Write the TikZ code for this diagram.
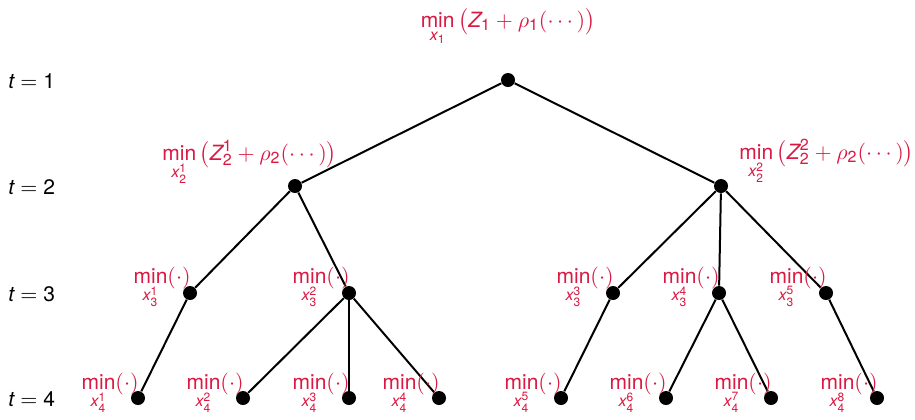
\documentclass[tikz,border=0pt]{standalone}
\usepackage{amsmath}
\usepackage{fontspec}
\setmainfont{TeX Gyre Heros}
\usetikzlibrary{calc}
\DeclareMathSizes{10.5}{10.5}{8}{6}
\definecolor{labred}{RGB}{218,24,66}
\newcommand{\tn}[1]{\text{#1}}
\newcommand{\ti}[1]{\text{\itshape #1}}
\begin{document}
\begin{tikzpicture}[x=0.5pt,y=-0.5pt,
  dotnode/.style={circle,fill=black,inner sep=0pt,minimum size=7pt},
  edge/.style={line width=1pt,black},
  lab/.style={text=labred,inner sep=0pt,font=\fontsize{10.5}{12.5}\selectfont},
  tlab/.style={text=black,inner sep=0pt,anchor=base west,font=\fontsize{10.5}{12.5}\selectfont}]
\useasboundingbox (0,0) rectangle (915,419);
% time labels
\node[tlab] (t1) at (8,88) {$\ti{t}=\tn{1}$};
\node[tlab] (t2) at (8,194) {$\ti{t}=\tn{2}$};
\node[tlab] (t3) at (8,301) {$\ti{t}=\tn{3}$};
\node[tlab] (t4) at (8,406) {$\ti{t}=\tn{4}$};
% nodes
\node[dotnode] (r) at (508,80) {};
\node[dotnode] (a) at (295,186) {};
\node[dotnode] (b) at (721,186) {};
\node[dotnode] (a1) at (190,293) {};
\node[dotnode] (a2) at (349,293) {};
\node[dotnode] (b1) at (613,293) {};
\node[dotnode] (b2) at (719,293) {};
\node[dotnode] (b3) at (826,293) {};
\node[dotnode] (l1) at (138,398) {};
\node[dotnode] (l2) at (243,398) {};
\node[dotnode] (l3) at (349,398) {};
\node[dotnode] (l4) at (439,398) {};
\node[dotnode] (l5) at (561,398) {};
\node[dotnode] (l6) at (666,398) {};
\node[dotnode] (l7) at (771,398) {};
\node[dotnode] (l8) at (877,398) {};
% edges
\draw[edge] (r) -- (a);
\draw[edge] (r) -- (b);
\draw[edge] (a) -- (a1);
\draw[edge] (a) -- (a2);
\draw[edge] (b) -- (b1);
\draw[edge] (b) -- (b2);
\draw[edge] (b) -- (b3);
\draw[edge] (a1) -- (l1);
\draw[edge] (a2) -- (l2);
\draw[edge] (a2) -- (l3);
\draw[edge] (a2) -- (l4);
\draw[edge] (b1) -- (l5);
\draw[edge] (b2) -- (l6);
\draw[edge] (b2) -- (l7);
\draw[edge] (b3) -- (l8);
% labels
\node[lab,anchor=base] (labr) at (508,27) {$\min\limits_{\ti{x}_{\tn{1}}}\,\bigl(\ti{Z}_{\tn{1}}+\rho_{\tn{1}}(\cdots)\bigr)$};
\node[lab,anchor=base west] (laba) at (162,160) {$\min\limits_{\ti{x}_{\tn{2}}^{\tn{1}}}\,\bigl(\ti{Z}_{\tn{2}}^{\tn{1}}+\rho_{\tn{2}}(\cdots)\bigr)$};
\node[lab,anchor=base west] (labb) at (739,159) {$\min\limits_{\ti{x}_{\tn{2}}^{\tn{2}}}\,\bigl(\ti{Z}_{\tn{2}}^{\tn{2}}+\rho_{\tn{2}}(\cdots)\bigr)$};
\node[lab,anchor=base east] (laba1) at ($(a1)+(1,-10)$) {$\min\limits_{\ti{x}_{\tn{3}}^{\tn{1}}}(\cdot)$};
\node[lab,anchor=base east] (laba2) at ($(a2)+(1,-10)$) {$\min\limits_{\ti{x}_{\tn{3}}^{\tn{2}}}(\cdot)$};
\node[lab,anchor=base east] (labb1) at ($(b1)+(1,-10)$) {$\min\limits_{\ti{x}_{\tn{3}}^{\tn{3}}}(\cdot)$};
\node[lab,anchor=base east] (labb2) at ($(b2)+(1,-10)$) {$\min\limits_{\ti{x}_{\tn{3}}^{\tn{4}}}(\cdot)$};
\node[lab,anchor=base east] (labb3) at ($(b3)+(1,-10)$) {$\min\limits_{\ti{x}_{\tn{3}}^{\tn{5}}}(\cdot)$};
\node[lab,anchor=base east] (labl1) at ($(l1)+(1,-9)$) {$\min\limits_{\ti{x}_{\tn{4}}^{\tn{1}}}(\cdot)$};
\node[lab,anchor=base east] (labl2) at ($(l2)+(1,-9)$) {$\min\limits_{\ti{x}_{\tn{4}}^{\tn{2}}}(\cdot)$};
\node[lab,anchor=base east] (labl3) at ($(l3)+(1,-9)$) {$\min\limits_{\ti{x}_{\tn{4}}^{\tn{3}}}(\cdot)$};
\node[lab,anchor=base east] (labl4) at ($(l4)+(1,-9)$) {$\min\limits_{\ti{x}_{\tn{4}}^{\tn{4}}}(\cdot)$};
\node[lab,anchor=base east] (labl5) at ($(l5)+(1,-9)$) {$\min\limits_{\ti{x}_{\tn{4}}^{\tn{5}}}(\cdot)$};
\node[lab,anchor=base east] (labl6) at ($(l6)+(1,-9)$) {$\min\limits_{\ti{x}_{\tn{4}}^{\tn{6}}}(\cdot)$};
\node[lab,anchor=base east] (labl7) at ($(l7)+(1,-9)$) {$\min\limits_{\ti{x}_{\tn{4}}^{\tn{7}}}(\cdot)$};
\node[lab,anchor=base east] (labl8) at ($(l8)+(1,-9)$) {$\min\limits_{\ti{x}_{\tn{4}}^{\tn{8}}}(\cdot)$};
\end{tikzpicture}
\end{document}
